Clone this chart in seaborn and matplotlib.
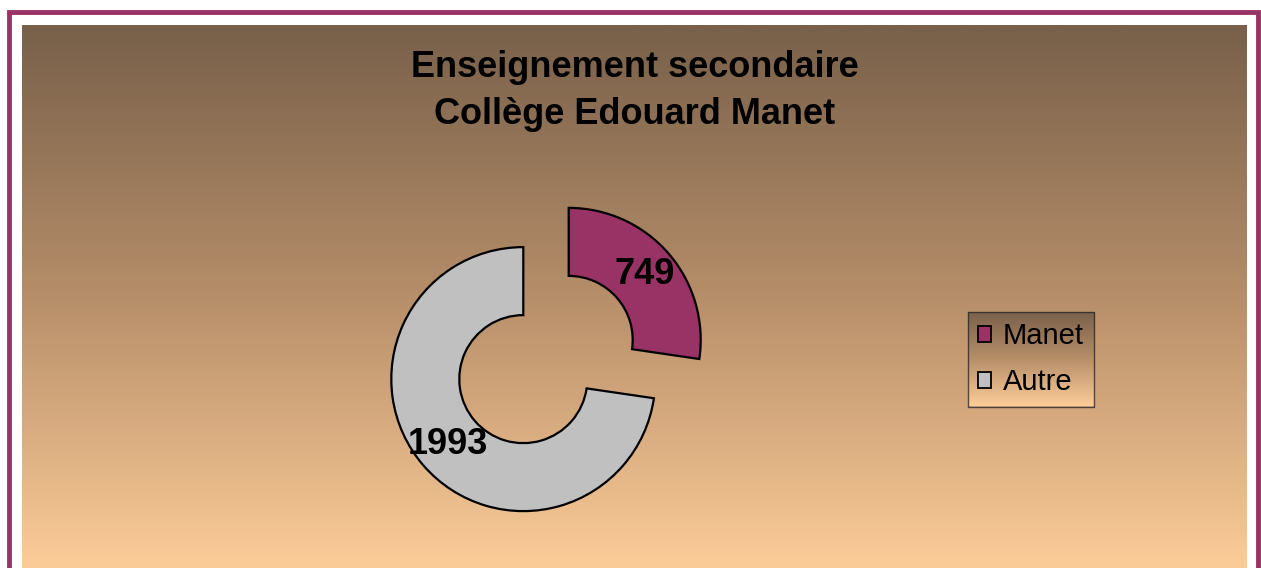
import numpy as np
import matplotlib
matplotlib.use("Agg")
import matplotlib.pyplot as plt
import seaborn as sns
from matplotlib.colors import LinearSegmentedColormap
from matplotlib.patches import Patch, Rectangle

sns.set_theme(style="white")
plt.rcParams['font.family'] = ['Liberation Sans', 'DejaVu Sans']
plt.rcParams['text.color'] = 'black'

# donnees
categories = ['Manet', 'Autre']
effectifs = [749, 1993]
couleurs = ['#993366', '#c0c0c0']
titre = "Enseignement secondaire\nCollège Edouard Manet"

W, H = 1261, 568
fig = plt.figure(figsize=(W / 100, H / 100), dpi=100)
fig.patch.set_facecolor('white')

# degrade de fond (brun -> peche)
degrade = LinearSegmentedColormap.from_list('fond', ['#78604a', '#b68e69', '#fccc98'])
grad = np.linspace(0, 1, 256).reshape(-1, 1)

bg = fig.add_axes([22 / W, 0, (1247 - 22) / W, (568 - 25) / H])
bg.imshow(grad, aspect='auto', cmap=degrade, extent=[0, 1, 0, 1])
bg.set_axis_off()

# cadre magenta
fig.patches.append(Rectangle((9 / W, -0.05), (1258 - 9) / W, 1 - 12 / H + 0.05,
                             transform=fig.transFigure, fill=False,
                             edgecolor='#993366', linewidth=3.5, zorder=10))

# anneau eclate
ax = fig.add_axes([0, 0, 1, 1])
ax.patch.set_alpha(0)
total = sum(effectifs)
wedges, texts, autotexts = ax.pie(
    effectifs, colors=couleurs, startangle=90, counterclock=False,
    center=(546, H - 359.5), radius=132, explode=[30, 30],
    wedgeprops=dict(width=68, edgecolor='black', linewidth=1.6),
    autopct=lambda p: '{:d}'.format(int(round(p * total / 100))),
    pctdistance=0.76,
    textprops=dict(fontsize=26, fontweight='bold', color='black'))
ax.set_xlim(0, W)
ax.set_ylim(0, H)
ax.set_aspect('equal')
ax.set_axis_off()

fig.text(635 / W, 1 - 91 / H, titre, ha='center', va='center', color='black',
         fontsize=26, fontweight='bold', linespacing=1.45)

# legende
handles = [Patch(facecolor=c, edgecolor='black', linewidth=1.3) for c in couleurs]
leg = fig.legend(handles, categories, loc='upper left',
                 bbox_to_anchor=(968 / W, 1 - 312 / H), fontsize=21,
                 frameon=True, fancybox=False, handlelength=0.45, handleheight=0.45,
                 handletextpad=0.4, labelspacing=0.62, borderpad=0.35,
                 borderaxespad=0)
for t in leg.get_texts():
    t.set_color('black')
leg.get_frame().set_facecolor('none')
leg.get_frame().set_edgecolor('#2a2a2a')
leg.get_frame().set_linewidth(1.0)
leg.set_zorder(20)

fig.canvas.draw()
bb = leg.get_frame().get_window_extent().transformed(fig.transFigure.inverted())
lax = fig.add_axes([bb.x0, bb.y0, bb.width, bb.height], zorder=15)
lax.imshow(grad, aspect='auto', cmap=degrade, extent=[0, 1, 0, 1])
lax.set_axis_off()

fig.savefig('out.png', dpi=100)
